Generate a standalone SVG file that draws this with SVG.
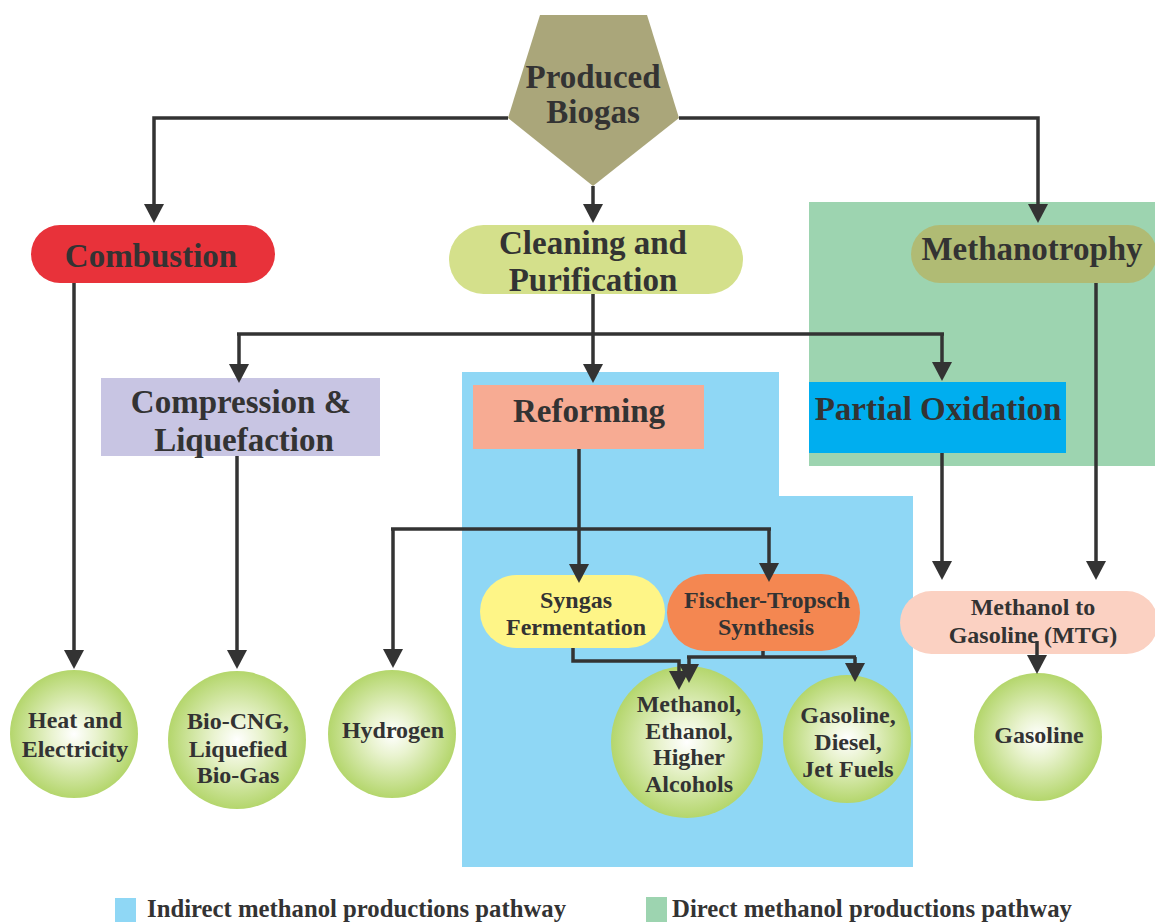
<svg xmlns="http://www.w3.org/2000/svg" width="1155" height="922" viewBox="0 0 1155 922">
<style>
text{font-family:"Liberation Serif","Times New Roman",serif;font-weight:bold;fill:#333;text-anchor:middle}
.big{font-size:33px}
.mid{font-size:24px}
.leg{font-size:25px;text-anchor:start}
.ln{fill:none;stroke:#333;stroke-width:3.5}
.ar{fill:none;stroke:#333;stroke-width:3.5;marker-end:url(#ah)}
</style>
<defs>
<marker id="ah" markerUnits="userSpaceOnUse" viewBox="0 0 20 20" refX="11" refY="10" markerWidth="20" markerHeight="20" orient="auto">
<path d="M0,0 L19,10 L0,20 z" fill="#333"/>
</marker>
<radialGradient id="cg" cx="0.5" cy="0.5" r="0.5">
<stop offset="0" stop-color="#ffffff"/>
<stop offset="0.35" stop-color="#e9f3cf"/>
<stop offset="1" stop-color="#b4d66c"/>
</radialGradient>
</defs>
<rect width="1155" height="922" fill="#fff"/>
<g id="regions">
<polygon id="indirect-region" points="462,372 779,372 779,496 913,496 913,867 462,867" fill="#8fd7f5"/>
<rect id="direct-region" x="809" y="202" width="346" height="264" fill="#9dd4b0"/>
</g>
<g id="produced-biogas">
<polygon points="540,15 647,15 679,118 593,186 508,118" fill="#aaa67a"/>
<text class="big" x="593" y="88">Produced</text>
<text class="big" x="593" y="123">Biogas</text>
</g>
<g id="combustion">
<rect x="31" y="225" width="244" height="58" rx="29" fill="#e8323a"/>
<text class="big" x="151" y="267">Combustion</text>
</g>
<g id="cleaning">
<rect x="449" y="225" width="294" height="69" rx="34.5" fill="#d4e08b"/>
<text class="big" x="593" y="254">Cleaning and</text>
<text class="big" x="593" y="291">Purification</text>
</g>
<g id="methanotrophy">
<rect x="911" y="225" width="246" height="58" rx="29" fill="#b0bb74"/>
<text class="big" x="1032" y="260">Methanotrophy</text>
</g>
<g id="compression">
<rect x="101" y="378" width="279" height="78" fill="#c8c5e3"/>
<text class="big" x="241" y="413">Compression &amp;</text>
<text class="big" x="244" y="451">Liquefaction</text>
</g>
<g id="reforming">
<rect x="473" y="385" width="231" height="64" fill="#f7ab93"/>
<text class="big" x="589" y="422">Reforming</text>
</g>
<g id="partial-oxidation">
<rect x="809" y="382" width="257" height="71" fill="#00aeef"/>
<text class="big" x="938" y="420">Partial Oxidation</text>
</g>
<g id="syngas">
<rect x="480" y="575" width="185" height="73" rx="36.5" fill="#fef587"/>
<text class="mid" x="576" y="608">Syngas</text>
<text class="mid" x="576" y="635">Fermentation</text>
</g>
<g id="fischer">
<rect x="667" y="574" width="193" height="77" rx="38.5" fill="#f48751"/>
<text class="mid" x="767" y="608">Fischer-Tropsch</text>
<text class="mid" x="766" y="635">Synthesis</text>
</g>
<g id="mtg">
<rect x="900" y="591" width="258" height="63" rx="31.5" fill="#fbd1c2"/>
<text class="mid" x="1033" y="615">Methanol to</text>
<text class="mid" x="1033" y="643">Gasoline (MTG)</text>
</g>
<g id="heat">
<circle cx="74" cy="734" r="64" fill="url(#cg)"/>
<text class="mid" x="75" y="728">Heat and</text>
<text class="mid" x="75" y="757">Electricity</text>
</g>
<g id="biocng">
<circle cx="237" cy="740" r="69" fill="url(#cg)"/>
<text class="mid" x="238" y="729">Bio-CNG,</text>
<text class="mid" x="238" y="757">Liquefied</text>
<text class="mid" x="238" y="783">Bio-Gas</text>
</g>
<g id="hydrogen">
<circle cx="392" cy="734" r="64" fill="url(#cg)"/>
<text class="mid" x="393" y="738">Hydrogen</text>
</g>
<g id="alcohols">
<circle cx="687" cy="742" r="76" fill="url(#cg)"/>
<text class="mid" x="689" y="712">Methanol,</text>
<text class="mid" x="689" y="739">Ethanol,</text>
<text class="mid" x="689" y="765">Higher</text>
<text class="mid" x="689" y="792">Alcohols</text>
</g>
<g id="fuels">
<circle cx="847" cy="739" r="64" fill="url(#cg)"/>
<text class="mid" x="848" y="723">Gasoline,</text>
<text class="mid" x="848" y="750">Diesel,</text>
<text class="mid" x="848" y="777">Jet Fuels</text>
</g>
<g id="gasoline">
<circle cx="1038" cy="737" r="64" fill="url(#cg)"/>
<text class="mid" x="1039" y="743">Gasoline</text>
</g>
<g id="connectors">
<path class="ar" d="M508,118 H154 V215"/>
<path class="ar" d="M679,118 H1038 V215"/>
<path class="ar" d="M593,186 V215"/>
<path class="ln" d="M593,294 V334 M237,334 H944"/>
<path class="ar" d="M239,334 V375"/>
<path class="ar" d="M593,334 V375"/>
<path class="ar" d="M942,334 V373"/>
<path class="ar" d="M74,283 V661"/>
<path class="ar" d="M237,456 V661"/>
<path class="ln" d="M579,449 V529 M391,529 H771"/>
<path class="ar" d="M393,529 V660"/>
<path class="ar" d="M579,529 V575"/>
<path class="ar" d="M769,529 V574"/>
<path class="ar" d="M942,453 V572"/>
<path class="ar" d="M1096,283 V572"/>
<path class="ar" d="M573,648 V661 H679 V682"/>
<path class="ln" d="M763,651 V657 M687,657 H856"/>
<path class="ar" d="M689,657 V675"/>
<path class="ar" d="M855,657 V674"/>
<path class="ar" d="M1037,641 V666"/>
</g>
<g id="legend">
<rect x="115" y="898" width="21" height="24" fill="#8fd7f5"/>
<text class="leg" x="147" y="917" textLength="419" lengthAdjust="spacingAndGlyphs">Indirect methanol productions pathway</text>
<rect x="646" y="897" width="21" height="25" fill="#9dd4b0"/>
<text class="leg" x="672" y="917" textLength="400" lengthAdjust="spacingAndGlyphs">Direct methanol productions pathway</text>
</g>
</svg>
